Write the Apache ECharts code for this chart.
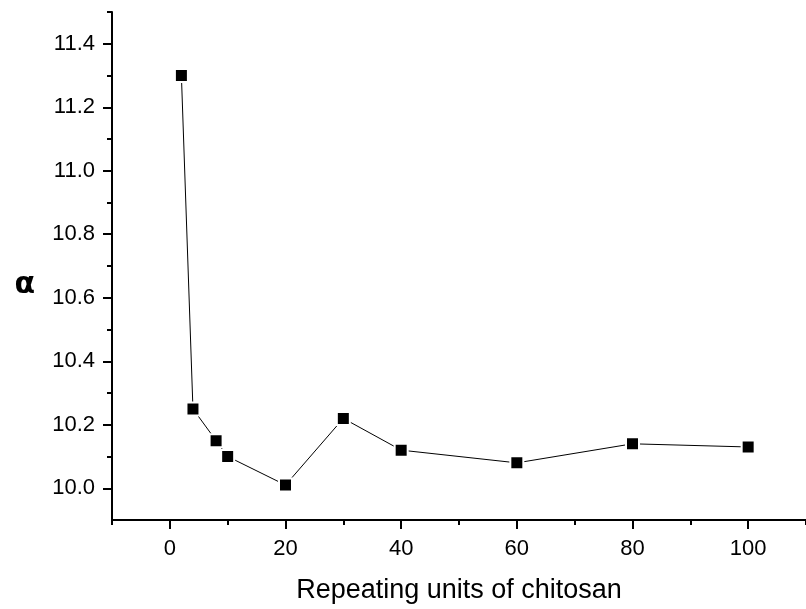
<!DOCTYPE html>
<html><head><meta charset="utf-8">
<script src="https://cdn.jsdelivr.net/npm/echarts@6/dist/echarts.min.js"></script>
<style>html,body{margin:0;padding:0;background:#fff}#c{width:806px;height:609px}</style>
</head><body><div id="c"></div>
<script>
const repeatUnits = [2, 4, 8, 10, 20, 30, 40, 60, 80, 100];
const alphaValues = [11.30, 10.25, 10.15, 10.10, 10.01, 10.22, 10.12, 10.08, 10.14, 10.13];
const xMajorTicks = [0, 20, 40, 60, 80, 100];
const xMinorTicks = [-10, 10, 30, 50, 70, 90, 110];
const yMajorTicks = [10.0, 10.2, 10.4, 10.6, 10.8, 11.0, 11.2, 11.4];
const yMinorTicks = [10.1, 10.3, 10.5, 10.7, 10.9, 11.1, 11.3, 11.5];
const xName = 'Repeating units of chitosan';
const yName = 'α';

const FONT = "'Liberation Sans', Arial, sans-serif";
const chart = echarts.init(document.getElementById('c'), null, {renderer: 'canvas'});
const axisLine = {show: true, onZero: false, lineStyle: {color: '#000', width: 2}};
const minorAxisCommon = {
  axisLine: {show: false, onZero: false}, axisLabel: {show: false}, splitLine: {show: false}
};
chart.setOption({
  animation: false,
  backgroundColor: '#fff',
  grid: {left: 112, top: 12, right: -5, bottom: 82, containLabel: false},
  xAxis: [{
    type: 'value', min: -10, max: 110, position: 'bottom',
    axisLine: axisLine,
    axisTick: {show: true, customValues: xMajorTicks, length: 9, lineStyle: {color: '#000', width: 2}},
    axisLabel: {customValues: xMajorTicks, margin: 18, color: '#000', fontSize: 22, fontFamily: FONT,
      formatter: v => String(v)},
    splitLine: {show: false},
    name: xName, nameLocation: 'middle', nameGap: 57,
    nameTextStyle: {color: '#000', fontSize: 27, fontFamily: FONT}
  }, Object.assign({
    type: 'value', min: -10, max: 110, position: 'bottom',
    axisTick: {show: true, customValues: xMinorTicks, length: 5, lineStyle: {color: '#000', width: 2}}
  }, minorAxisCommon)],
  yAxis: [{
    type: 'value', min: 9.9, max: 11.5, position: 'left',
    axisLine: axisLine,
    axisTick: {show: true, customValues: yMajorTicks, length: 9, lineStyle: {color: '#000', width: 2}},
    axisLabel: {customValues: yMajorTicks, margin: 17, color: '#000', fontSize: 22, fontFamily: FONT,
      formatter: v => Number(v).toFixed(1)},
    splitLine: {show: false},
    name: yName, nameLocation: 'middle', nameGap: 77, nameRotate: 0,
    nameTextStyle: {color: '#000', fontSize: 30, fontWeight: 'bold', fontFamily: "'DejaVu Sans', sans-serif",
      verticalAlign: 'top', padding: [4, 0, 0, 0]}
  }, Object.assign({
    type: 'value', min: 9.9, max: 11.5, position: 'left', offset: 0,
    axisTick: {show: true, customValues: yMinorTicks, length: 5, lineStyle: {color: '#000', width: 2}}
  }, minorAxisCommon)],
  series: [{
    type: 'line',
    xAxisIndex: 0, yAxisIndex: 0,
    data: repeatUnits.map((x, i) => [x, alphaValues[i]]),
    symbol: 'rect', symbolSize: 13,
    itemStyle: {color: '#000', borderColor: '#fff', borderWidth: 2},
    lineStyle: {color: '#000', width: 1},
    emphasis: {disabled: true}
  }]
});
</script></body></html>
